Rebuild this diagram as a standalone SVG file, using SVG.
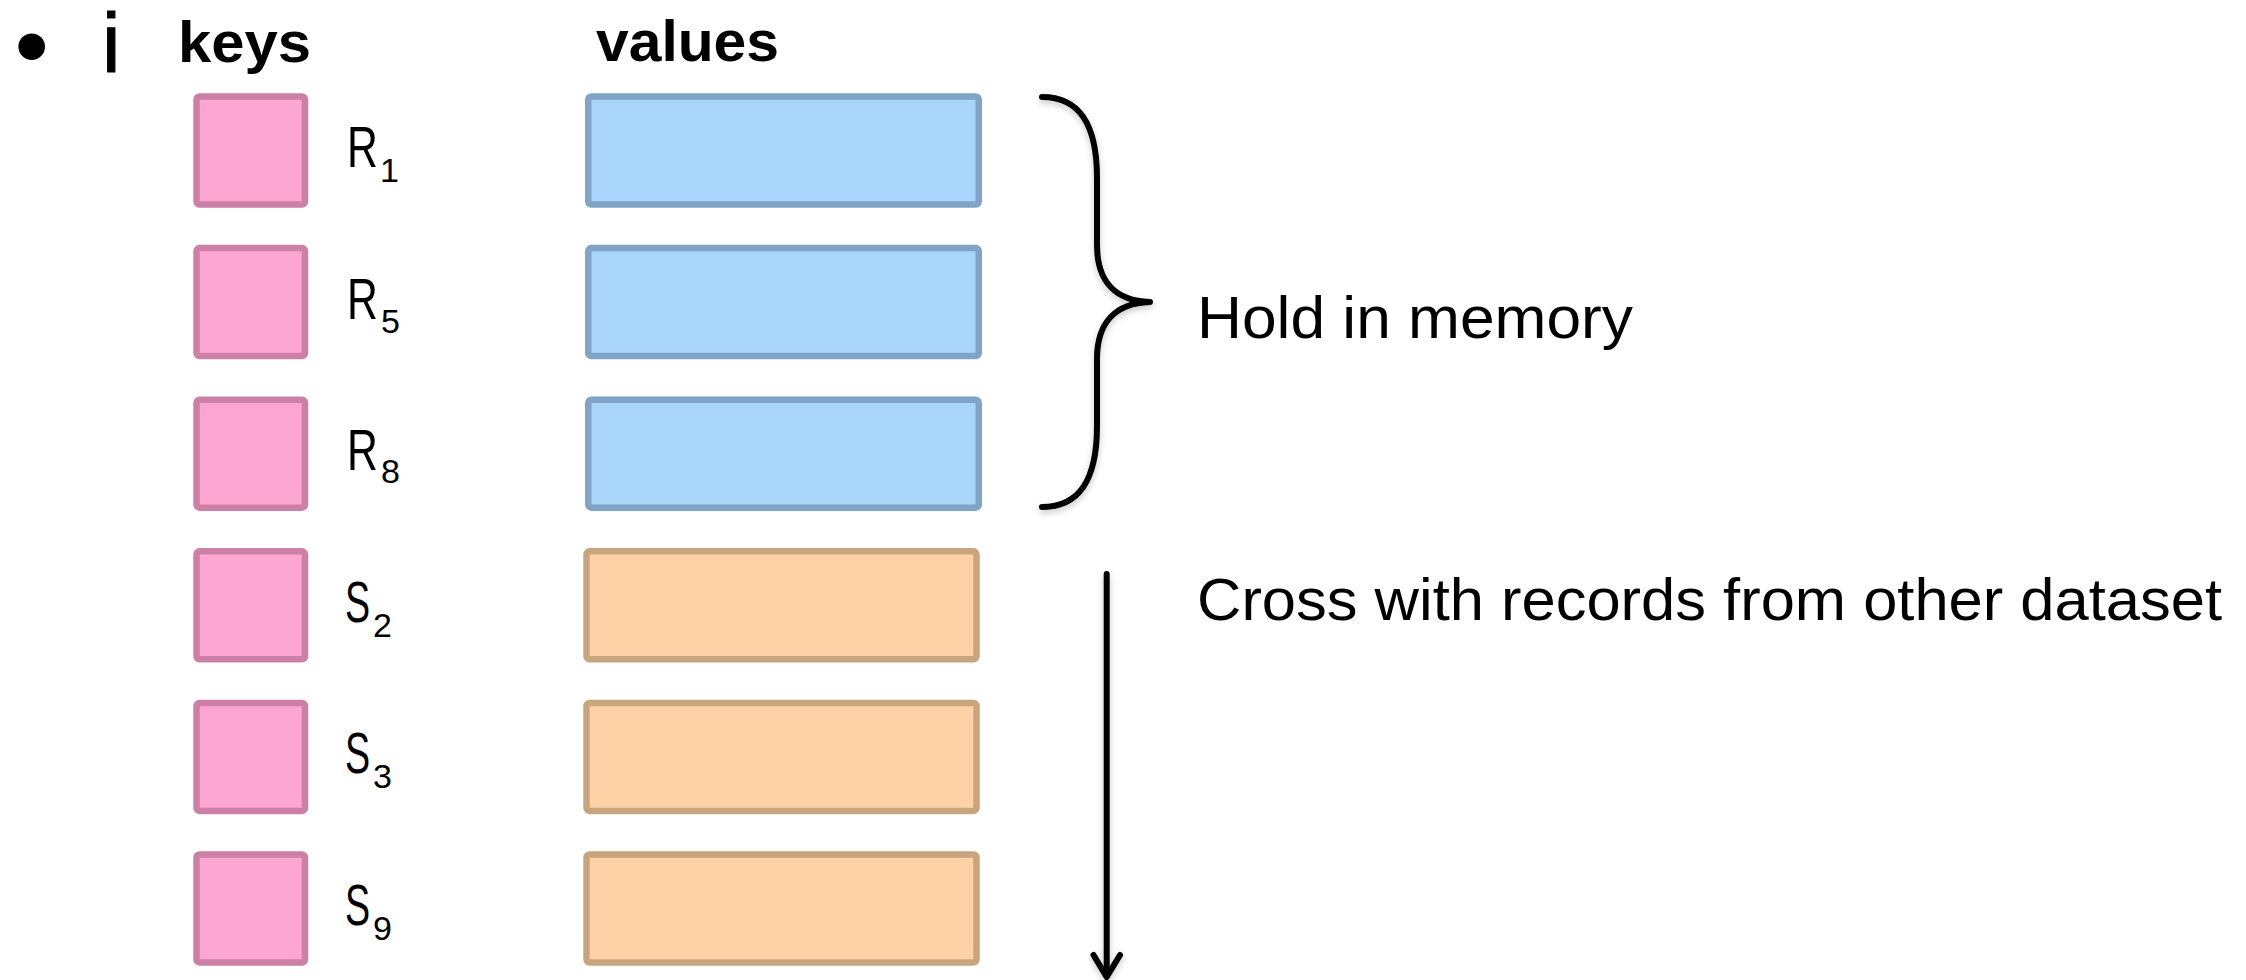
<svg xmlns="http://www.w3.org/2000/svg" width="2246" height="980" viewBox="0 0 2246 980">
  <style>
    .hdr { font-family: "Liberation Sans", Arial, sans-serif; font-weight: bold; font-size: 57px; fill: #000; }
    .txt { font-family: "Liberation Sans", Arial, sans-serif; font-size: 60px; fill: #000; }
    .lbl { font-family: "Liberation Sans", Arial, sans-serif; font-size: 57px; fill: #000; }
    .sub { font-family: "Liberation Sans", Arial, sans-serif; font-size: 34px; fill: #000; }
    .key { fill: #FEA6D2; stroke: #CC80A5; stroke-width: 6.5; }
    .valR { fill: #A9D5FB; stroke: #7FA4C6; stroke-width: 6.5; }
    .valS { fill: #FED1A7; stroke: #C9A57F; stroke-width: 6.5; }
    .ink { fill: none; stroke: #000; stroke-width: 6; stroke-linecap: round; stroke-linejoin: round; }
  </style>
  <defs>
    <filter id="soft" x="-20%" y="-5%" width="140%" height="115%">
      <feDropShadow dx="0" dy="3" stdDeviation="3" flood-color="#000" flood-opacity="0.22"/>
    </filter>
  </defs>

  <rect width="2246" height="980" fill="#fff"/>

  <!-- bullet line with column headings -->
  <g id="heading">
    <circle cx="31.7" cy="46.7" r="13.3" fill="#000"/>
    <text x="102" y="71.7" font-family="Liberation Sans, Arial, sans-serif" font-size="83.6" stroke="#000" stroke-width="1">i</text>
    <text class="hdr" x="178" y="61.5" textLength="133" lengthAdjust="spacingAndGlyphs">keys</text>
    <text class="hdr" x="596" y="60.5" textLength="183" lengthAdjust="spacingAndGlyphs">values</text>
  </g>

  <!-- R records (held in memory); letters narrowed to a humanist width -->
  <g id="rowR1">
    <rect class="key" x="196.5" y="96.5" width="108.5" height="108" rx="3"/>
    <text class="lbl" transform="translate(347 167.3) scale(0.75 1)">R</text>
    <text class="sub" x="380" y="181.5">1</text>
    <rect class="valR" x="588.25" y="96.5" width="390.5" height="108" rx="3"/>
  </g>
  <g id="rowR5">
    <rect class="key" x="196.5" y="248.1" width="108.5" height="108" rx="3"/>
    <text class="lbl" transform="translate(347 318.9) scale(0.75 1)">R</text>
    <text class="sub" x="381" y="332.5">5</text>
    <rect class="valR" x="588.25" y="248.1" width="390.5" height="108" rx="3"/>
  </g>
  <g id="rowR8">
    <rect class="key" x="196.5" y="399.7" width="108.5" height="108" rx="3"/>
    <text class="lbl" transform="translate(347 470.3) scale(0.75 1)">R</text>
    <text class="sub" x="381" y="483">8</text>
    <rect class="valR" x="588.25" y="399.7" width="390.5" height="108" rx="3"/>
  </g>

  <!-- S records (streamed) -->
  <g id="rowS2">
    <rect class="key" x="196.5" y="551.3" width="108.5" height="108" rx="3"/>
    <text class="lbl" transform="translate(345 621.7) scale(0.66 1)">S</text>
    <text class="sub" x="373" y="636.5">2</text>
    <rect class="valS" x="586.5" y="551.3" width="390" height="108" rx="3"/>
  </g>
  <g id="rowS3">
    <rect class="key" x="196.5" y="702.9" width="108.5" height="108" rx="3"/>
    <text class="lbl" transform="translate(345 773.3) scale(0.66 1)">S</text>
    <text class="sub" x="373" y="788">3</text>
    <rect class="valS" x="586.5" y="702.9" width="390" height="108" rx="3"/>
  </g>
  <g id="rowS9">
    <rect class="key" x="196.5" y="854.5" width="108.5" height="108" rx="3"/>
    <text class="lbl" transform="translate(345 924.9) scale(0.66 1)">S</text>
    <text class="sub" x="373" y="939.5">9</text>
    <rect class="valS" x="586.5" y="854.5" width="390" height="108" rx="3"/>
  </g>

  <!-- curly brace grouping the R rows -->
  <g id="brace" filter="url(#soft)">
    <path class="ink" d="M 1042 97 C 1080 97 1097 125 1097 178 L 1097 245 C 1097 282 1116 301 1150 302 C 1116 303 1097 322 1097 359 L 1097 426 C 1097 479 1080 507 1042 507"/>
  </g>
  <g id="note-hold">
    <text class="txt" x="1197" y="338.3" textLength="436" lengthAdjust="spacingAndGlyphs">Hold in memory</text>
  </g>
  <g id="note-cross">
    <text class="txt" x="1197" y="620" textLength="1025" lengthAdjust="spacingAndGlyphs">Cross with records from other dataset</text>
  </g>

  <!-- streaming direction arrow -->
  <g id="connectors" filter="url(#soft)">
    <line class="ink" x1="1106.7" y1="574" x2="1106.7" y2="975" stroke-width="5.5" stroke-linecap="butt"/>
    <path class="ink" d="M 1093.5 955 L 1106.7 977 L 1120 955" stroke-width="5.5"/>
  </g>
</svg>
